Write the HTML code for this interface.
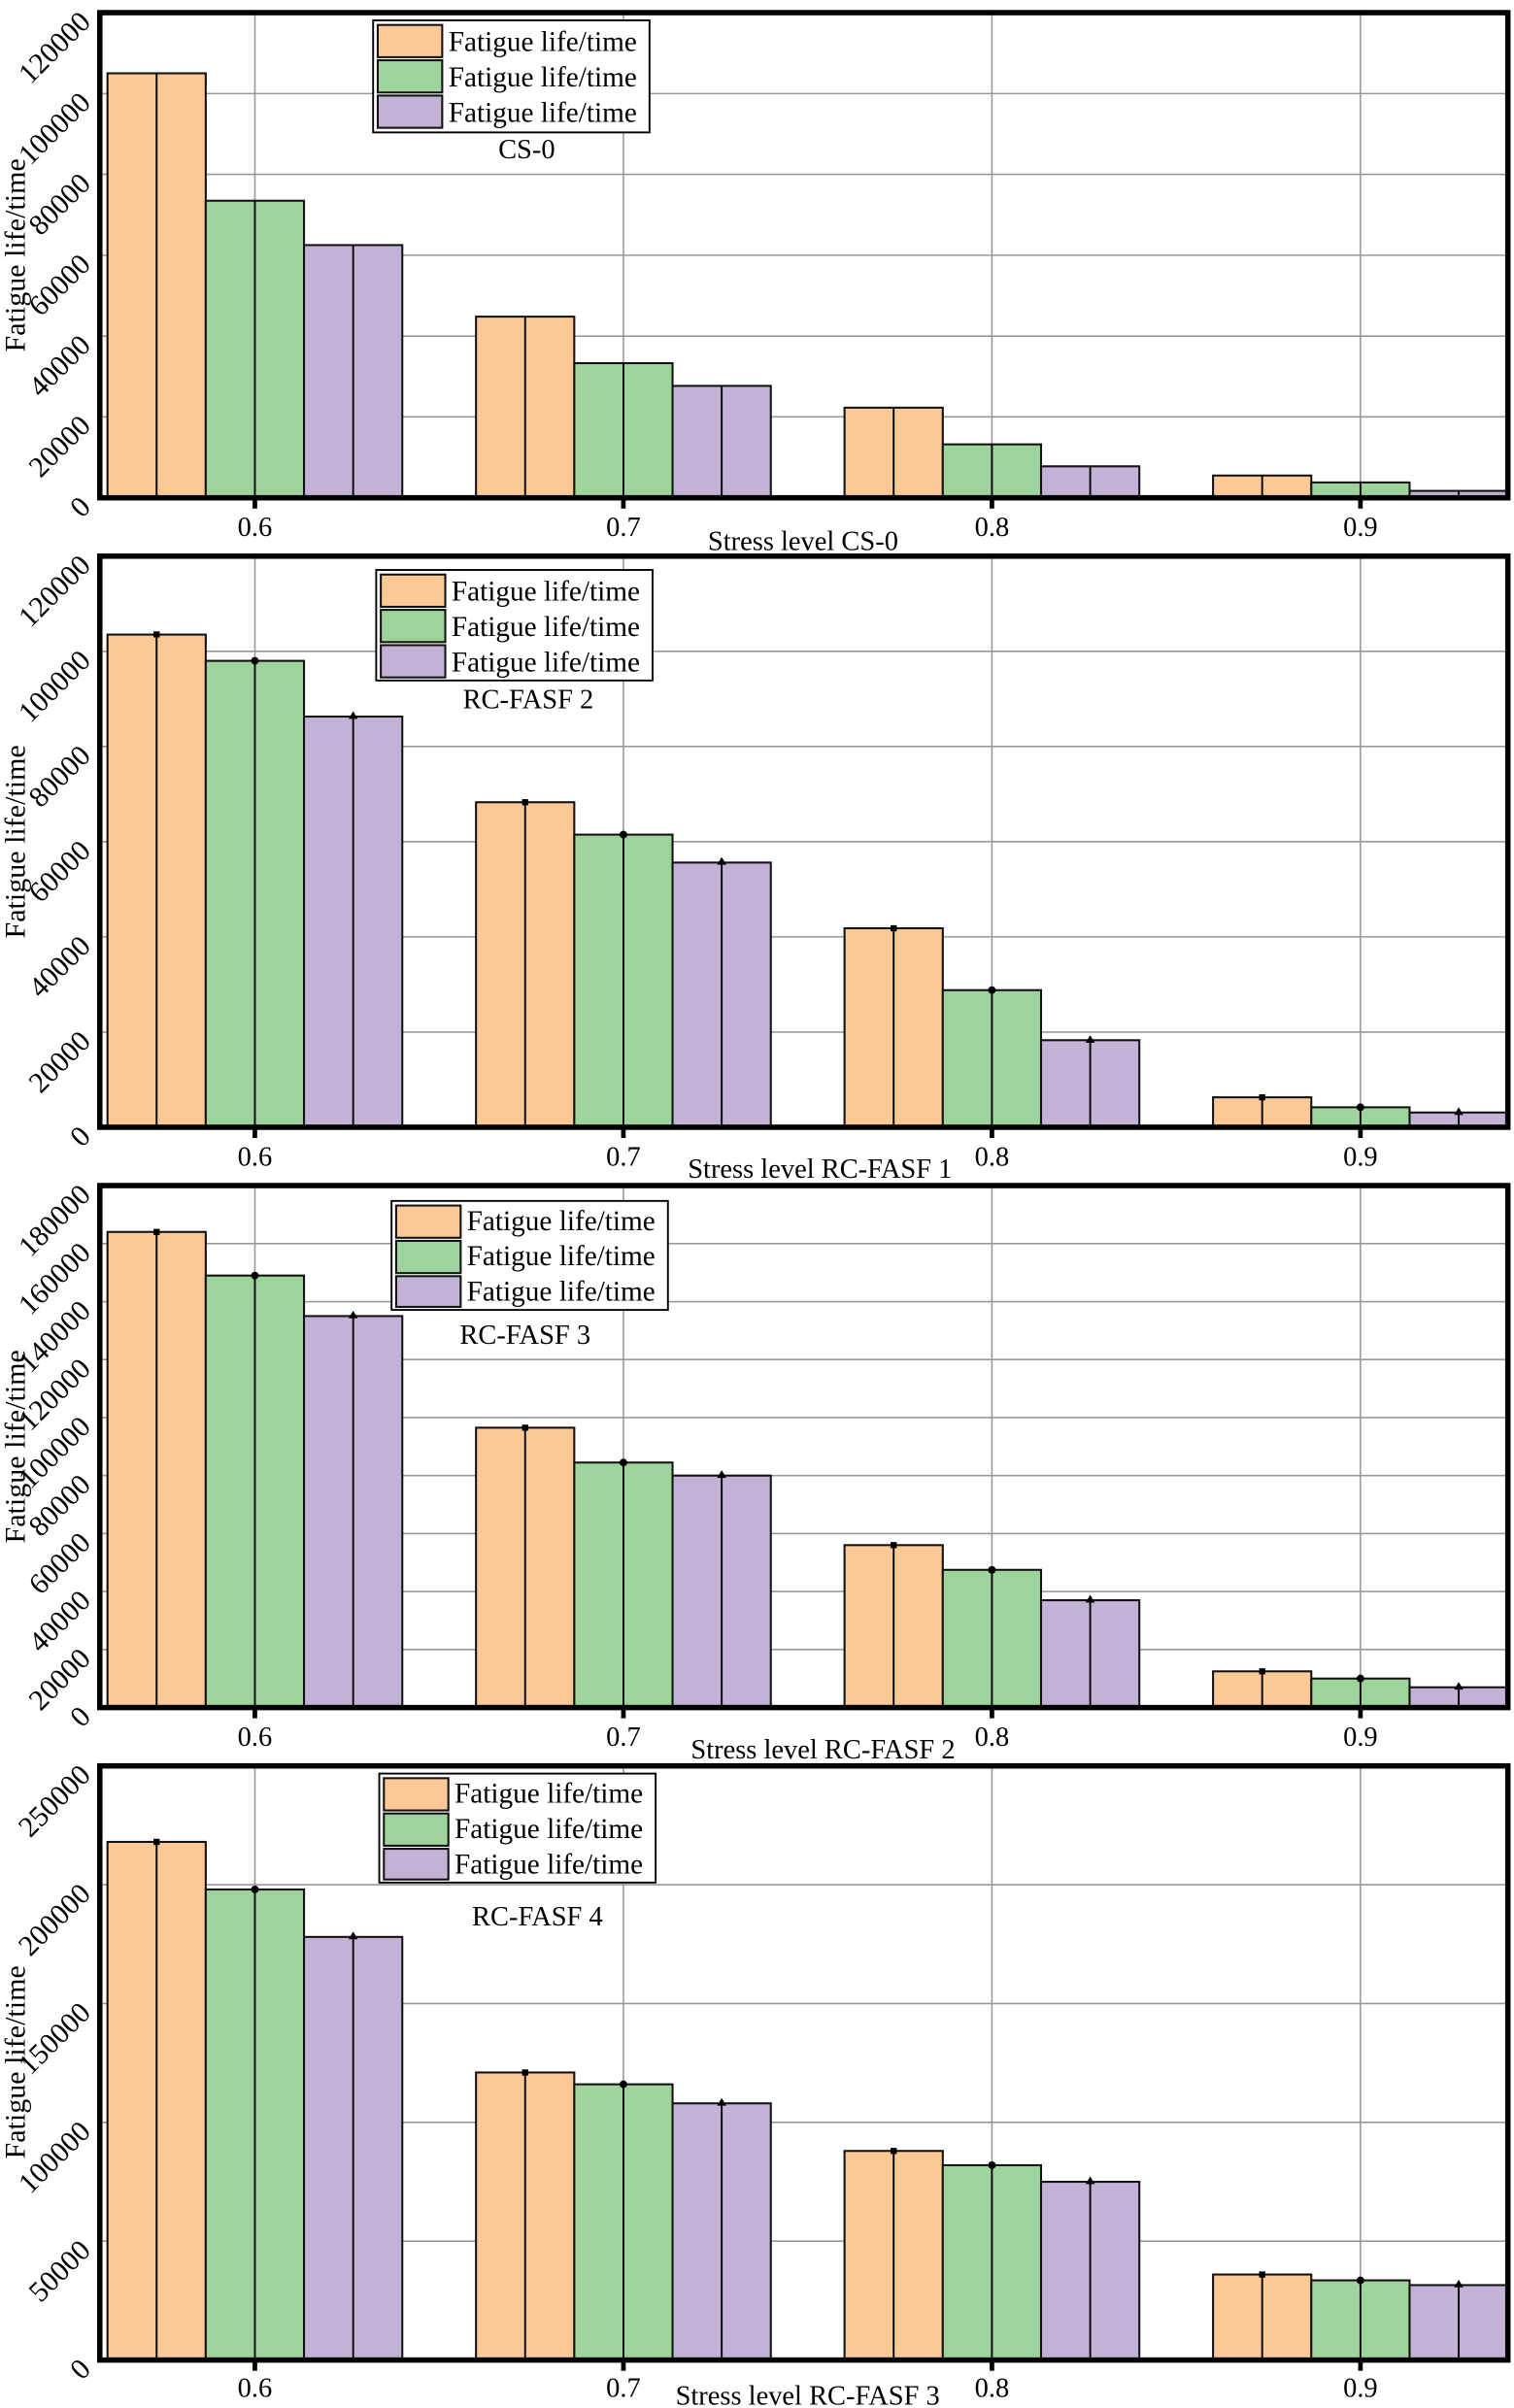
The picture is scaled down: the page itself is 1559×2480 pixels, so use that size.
<!DOCTYPE html>
<html><head><meta charset="utf-8"><style>html,body{margin:0;padding:0;background:#fff}svg{display:block}svg text{font-family:"Liberation Serif","Times New Roman",serif;fill:#000}</style></head>
<body>
<svg width="1559" height="2480" viewBox="0 0 986 1568" xmlns="http://www.w3.org/2000/svg" font-family="Liberation Serif, serif">
<defs>
<style>
.g{stroke:#999;stroke-width:1}
.o{fill:#FBC896;stroke:#111;stroke-width:1.3}
.gr{fill:#9ED39C;stroke:#111;stroke-width:1.3}
.p{fill:#C1B2D6;stroke:#111;stroke-width:1.3}
.e{stroke:#000;stroke-width:1.2}
.f{fill:none;stroke:#000;stroke-width:3.5}
.t{font-size:18px;font-family:"Liberation Serif",serif}
.yt{font-size:19px;text-anchor:end;font-family:"Liberation Serif",serif}
.yl{font-size:19px;font-family:"Liberation Serif",serif}
.lg{font-size:18.5px;font-family:"Liberation Serif",serif}
</style>
</defs>

<!-- ===== Panel 1 ===== -->
<g>
<line class="g" x1="65" x2="982" y1="271.3" y2="271.3"/><line class="g" x1="65" x2="982" y1="218.7" y2="218.7"/><line class="g" x1="65" x2="982" y1="166" y2="166"/><line class="g" x1="65" x2="982" y1="113.3" y2="113.3"/><line class="g" x1="65" x2="982" y1="60.7" y2="60.7"/>
<line class="g" x1="166" x2="166" y1="8" y2="324"/><line class="g" x1="406" x2="406" y1="8" y2="324"/><line class="g" x1="646" x2="646" y1="8" y2="324"/><line class="g" x1="886" x2="886" y1="8" y2="324"/>
<rect class="o" x="70" y="47.5" width="64" height="276.5"/><rect class="gr" x="134" y="130.5" width="64" height="193.5"/><rect class="p" x="198" y="159.4" width="64" height="164.6"/>
<rect class="o" x="310" y="206" width="64" height="118"/><rect class="gr" x="374" y="236.3" width="64" height="87.7"/><rect class="p" x="438" y="251.1" width="64" height="72.9"/>
<rect class="o" x="550" y="265.3" width="64" height="58.7"/><rect class="gr" x="614" y="289.2" width="64" height="34.8"/><rect class="p" x="678" y="303.5" width="64" height="20.5"/>
<rect class="o" x="790" y="309.5" width="64" height="14.5"/><rect class="gr" x="854" y="314" width="64" height="10"/><rect class="p" x="918" y="319.5" width="64" height="4.5"/>
<line class="e" x1="102" x2="102" y1="47.5" y2="324"/><line class="e" x1="166" x2="166" y1="130.5" y2="324"/><line class="e" x1="230" x2="230" y1="159.4" y2="324"/>
<line class="e" x1="342" x2="342" y1="206" y2="324"/><line class="e" x1="406" x2="406" y1="236.3" y2="324"/><line class="e" x1="470" x2="470" y1="251.1" y2="324"/>
<line class="e" x1="582" x2="582" y1="265.3" y2="324"/><line class="e" x1="646" x2="646" y1="289.2" y2="324"/><line class="e" x1="710" x2="710" y1="303.5" y2="324"/>
<line class="e" x1="822" x2="822" y1="309.5" y2="324"/><line class="e" x1="886" x2="886" y1="314" y2="324"/><line class="e" x1="950" x2="950" y1="319.5" y2="324"/>
<rect class="f" x="65" y="8" width="917" height="316"/>
<line stroke="#000" stroke-width="3" x1="166" x2="166" y1="324" y2="331"/><line stroke="#000" stroke-width="3" x1="406" x2="406" y1="324" y2="331"/><line stroke="#000" stroke-width="3" x1="646" x2="646" y1="324" y2="331"/><line stroke="#000" stroke-width="3" x1="886" x2="886" y1="324" y2="331"/>
<text class="t" x="166" y="349" text-anchor="middle">0.6</text><text class="t" x="406" y="349" text-anchor="middle">0.7</text><text class="t" x="646" y="349" text-anchor="middle">0.8</text><text class="t" x="886" y="349" text-anchor="middle">0.9</text>
<text class="t" x="523" y="358" text-anchor="middle">Stress level CS-0</text>
<text class="yt" transform="translate(60,331) rotate(-45)">0</text>
<text class="yt" transform="translate(60,278) rotate(-45)">20000</text>
<text class="yt" transform="translate(60,225.7) rotate(-45)">40000</text>
<text class="yt" transform="translate(60,173) rotate(-45)">60000</text>
<text class="yt" transform="translate(60,120.3) rotate(-45)">80000</text>
<text class="yt" transform="translate(60,67.7) rotate(-45)">100000</text>
<text class="yt" transform="translate(60,15) rotate(-45)">120000</text>
<text class="yl" transform="translate(16,166) rotate(-90)" text-anchor="middle">Fatigue life/time</text>
<rect x="243" y="13" width="180" height="73" fill="#fff" stroke="#000" stroke-width="1.2"/>
<rect class="o" x="246" y="16" width="42" height="21"/><rect class="gr" x="246" y="39" width="42" height="21"/><rect class="p" x="246" y="62" width="42" height="21"/>
<text class="lg" x="292" y="33">Fatigue life/time</text><text class="lg" x="292" y="56">Fatigue life/time</text><text class="lg" x="292" y="79">Fatigue life/time</text>
<text class="t" x="343" y="103" text-anchor="middle">CS-0</text>
</g>

<!-- ===== Panel 2 ===== -->
<g>
<line class="g" x1="65" x2="982" y1="672" y2="672"/><line class="g" x1="65" x2="982" y1="610" y2="610"/><line class="g" x1="65" x2="982" y1="548" y2="548"/><line class="g" x1="65" x2="982" y1="486" y2="486"/><line class="g" x1="65" x2="982" y1="424" y2="424"/>
<line class="g" x1="166" x2="166" y1="362" y2="734"/><line class="g" x1="406" x2="406" y1="362" y2="734"/><line class="g" x1="646" x2="646" y1="362" y2="734"/><line class="g" x1="886" x2="886" y1="362" y2="734"/>
<rect class="o" x="70" y="413.1" width="64" height="320.9"/><rect class="gr" x="134" y="430.2" width="64" height="303.8"/><rect class="p" x="198" y="466.5" width="64" height="267.5"/>
<rect class="o" x="310" y="522.3" width="64" height="211.7"/><rect class="gr" x="374" y="543.4" width="64" height="190.6"/><rect class="p" x="438" y="561.6" width="64" height="172.4"/>
<rect class="o" x="550" y="604.4" width="64" height="129.6"/><rect class="gr" x="614" y="644.7" width="64" height="89.3"/><rect class="p" x="678" y="677.3" width="64" height="56.7"/>
<rect class="o" x="790" y="714.5" width="64" height="19.5"/><rect class="gr" x="854" y="721" width="64" height="13"/><rect class="p" x="918" y="724.4" width="64" height="9.6"/>
<line class="e" x1="102" x2="102" y1="413.1" y2="734"/><line class="e" x1="166" x2="166" y1="430.2" y2="734"/><line class="e" x1="230" x2="230" y1="466.5" y2="734"/>
<line class="e" x1="342" x2="342" y1="522.3" y2="734"/><line class="e" x1="406" x2="406" y1="543.4" y2="734"/><line class="e" x1="470" x2="470" y1="561.6" y2="734"/>
<line class="e" x1="582" x2="582" y1="604.4" y2="734"/><line class="e" x1="646" x2="646" y1="644.7" y2="734"/><line class="e" x1="710" x2="710" y1="677.3" y2="734"/>
<line class="e" x1="822" x2="822" y1="714.5" y2="734"/><line class="e" x1="886" x2="886" y1="721" y2="734"/><line class="e" x1="950" x2="950" y1="724.4" y2="734"/>
<rect x="100" y="411" width="4" height="4"/><circle cx="166" cy="430.2" r="2.5"/><polygon points="230,463 227,468 233,468"/>
<rect x="340" y="520.3" width="4" height="4"/><circle cx="406" cy="543.4" r="2.5"/><polygon points="470,558 467,563 473,563"/>
<rect x="580" y="602.4" width="4" height="4"/><circle cx="646" cy="644.7" r="2.5"/><polygon points="710,674 707,679 713,679"/>
<rect x="820" y="712.5" width="4" height="4"/><circle cx="886" cy="721" r="2.5"/><polygon points="950,721 947,726 953,726"/>
<rect class="f" x="65" y="362" width="917" height="372"/>
<line stroke="#000" stroke-width="3" x1="166" x2="166" y1="734" y2="741"/><line stroke="#000" stroke-width="3" x1="406" x2="406" y1="734" y2="741"/><line stroke="#000" stroke-width="3" x1="646" x2="646" y1="734" y2="741"/><line stroke="#000" stroke-width="3" x1="886" x2="886" y1="734" y2="741"/>
<text class="t" x="166" y="759" text-anchor="middle">0.6</text><text class="t" x="406" y="759" text-anchor="middle">0.7</text><text class="t" x="646" y="759" text-anchor="middle">0.8</text><text class="t" x="886" y="759" text-anchor="middle">0.9</text>
<text class="t" x="534" y="767" text-anchor="middle">Stress level RC-FASF 1</text>
<text class="yt" transform="translate(60,741) rotate(-45)">0</text>
<text class="yt" transform="translate(60,679) rotate(-45)">20000</text>
<text class="yt" transform="translate(60,617) rotate(-45)">40000</text>
<text class="yt" transform="translate(60,555) rotate(-45)">60000</text>
<text class="yt" transform="translate(60,493) rotate(-45)">80000</text>
<text class="yt" transform="translate(60,431) rotate(-45)">100000</text>
<text class="yt" transform="translate(60,369) rotate(-45)">120000</text>
<text class="yl" transform="translate(16,548) rotate(-90)" text-anchor="middle">Fatigue life/time</text>
<rect x="245" y="371" width="180" height="72" fill="#fff" stroke="#000" stroke-width="1.2"/>
<rect class="o" x="248" y="374" width="42" height="21"/><rect class="gr" x="248" y="397" width="42" height="21"/><rect class="p" x="248" y="420" width="42" height="21"/>
<text class="lg" x="294" y="391">Fatigue life/time</text><text class="lg" x="294" y="414">Fatigue life/time</text><text class="lg" x="294" y="437">Fatigue life/time</text>
<text class="t" x="344" y="461" text-anchor="middle">RC-FASF 2</text>
</g>

<!-- ===== Panel 3 ===== -->
<g>
<line class="g" x1="65" x2="982" y1="1074.2" y2="1074.2"/><line class="g" x1="65" x2="982" y1="1036.4" y2="1036.4"/><line class="g" x1="65" x2="982" y1="998.7" y2="998.7"/><line class="g" x1="65" x2="982" y1="960.9" y2="960.9"/><line class="g" x1="65" x2="982" y1="923.1" y2="923.1"/><line class="g" x1="65" x2="982" y1="885.3" y2="885.3"/><line class="g" x1="65" x2="982" y1="847.6" y2="847.6"/><line class="g" x1="65" x2="982" y1="809.8" y2="809.8"/>
<line class="g" x1="166" x2="166" y1="772" y2="1112"/><line class="g" x1="406" x2="406" y1="772" y2="1112"/><line class="g" x1="646" x2="646" y1="772" y2="1112"/><line class="g" x1="886" x2="886" y1="772" y2="1112"/>
<rect class="o" x="70" y="802.2" width="64" height="309.8"/><rect class="gr" x="134" y="830.6" width="64" height="281.4"/><rect class="p" x="198" y="857" width="64" height="255"/>
<rect class="o" x="310" y="929.7" width="64" height="182.3"/><rect class="gr" x="374" y="952.4" width="64" height="159.6"/><rect class="p" x="438" y="960.9" width="64" height="151.1"/>
<rect class="o" x="550" y="1006.2" width="64" height="105.8"/><rect class="gr" x="614" y="1022.3" width="64" height="89.7"/><rect class="p" x="678" y="1042.1" width="64" height="69.9"/>
<rect class="o" x="790" y="1088.4" width="64" height="23.6"/><rect class="gr" x="854" y="1093.1" width="64" height="18.9"/><rect class="p" x="918" y="1098.8" width="64" height="13.2"/>
<line class="e" x1="102" x2="102" y1="802.2" y2="1112"/><line class="e" x1="166" x2="166" y1="830.6" y2="1112"/><line class="e" x1="230" x2="230" y1="857" y2="1112"/>
<line class="e" x1="342" x2="342" y1="929.7" y2="1112"/><line class="e" x1="406" x2="406" y1="952.4" y2="1112"/><line class="e" x1="470" x2="470" y1="960.9" y2="1112"/>
<line class="e" x1="582" x2="582" y1="1006.2" y2="1112"/><line class="e" x1="646" x2="646" y1="1022.3" y2="1112"/><line class="e" x1="710" x2="710" y1="1042.1" y2="1112"/>
<line class="e" x1="822" x2="822" y1="1088.4" y2="1112"/><line class="e" x1="886" x2="886" y1="1093.1" y2="1112"/><line class="e" x1="950" x2="950" y1="1098.8" y2="1112"/>
<rect x="100" y="800.2" width="4" height="4"/><circle cx="166" cy="830.6" r="2.5"/><polygon points="230,853.5 227,858.5 233,858.5"/>
<rect x="340" y="927.7" width="4" height="4"/><circle cx="406" cy="952.4" r="2.5"/><polygon points="470,957.4 467,962.4 473,962.4"/>
<rect x="580" y="1004.2" width="4" height="4"/><circle cx="646" cy="1022.3" r="2.5"/><polygon points="710,1038.6 707,1043.6 713,1043.6"/>
<rect x="820" y="1086.4" width="4" height="4"/><circle cx="886" cy="1093.1" r="2.5"/><polygon points="950,1095.3 947,1100.3 953,1100.3"/>
<rect class="f" x="65" y="772" width="917" height="340"/>
<line stroke="#000" stroke-width="3" x1="166" x2="166" y1="1112" y2="1119"/><line stroke="#000" stroke-width="3" x1="406" x2="406" y1="1112" y2="1119"/><line stroke="#000" stroke-width="3" x1="646" x2="646" y1="1112" y2="1119"/><line stroke="#000" stroke-width="3" x1="886" x2="886" y1="1112" y2="1119"/>
<text class="t" x="166" y="1137" text-anchor="middle">0.6</text><text class="t" x="406" y="1137" text-anchor="middle">0.7</text><text class="t" x="646" y="1137" text-anchor="middle">0.8</text><text class="t" x="886" y="1137" text-anchor="middle">0.9</text>
<text class="t" x="536" y="1145" text-anchor="middle">Stress level RC-FASF 2</text>
<text class="yt" transform="translate(60,1119) rotate(-45)">0</text>
<text class="yt" transform="translate(60,1081.2) rotate(-45)">20000</text>
<text class="yt" transform="translate(60,1043.4) rotate(-45)">40000</text>
<text class="yt" transform="translate(60,1005.7) rotate(-45)">60000</text>
<text class="yt" transform="translate(60,967.9) rotate(-45)">80000</text>
<text class="yt" transform="translate(60,930.1) rotate(-45)">100000</text>
<text class="yt" transform="translate(60,892.3) rotate(-45)">120000</text>
<text class="yt" transform="translate(60,854.6) rotate(-45)">140000</text>
<text class="yt" transform="translate(60,816.8) rotate(-45)">160000</text>
<text class="yt" transform="translate(60,779) rotate(-45)">180000</text>
<text class="yl" transform="translate(16,942) rotate(-90)" text-anchor="middle">Fatigue life/time</text>
<rect x="255" y="782" width="180" height="71" fill="#fff" stroke="#000" stroke-width="1.2"/>
<rect class="o" x="258" y="785" width="42" height="21"/><rect class="gr" x="258" y="808" width="42" height="21"/><rect class="p" x="258" y="831" width="42" height="20"/>
<text class="lg" x="304" y="801">Fatigue life/time</text><text class="lg" x="304" y="824">Fatigue life/time</text><text class="lg" x="304" y="847">Fatigue life/time</text>
<text class="t" x="342" y="875" text-anchor="middle">RC-FASF 3</text>
</g>

<!-- ===== Panel 4 ===== -->
<g>
<line class="g" x1="65" x2="982" y1="1459.6" y2="1459.6"/><line class="g" x1="65" x2="982" y1="1382.2" y2="1382.2"/><line class="g" x1="65" x2="982" y1="1304.8" y2="1304.8"/><line class="g" x1="65" x2="982" y1="1227.4" y2="1227.4"/>
<line class="g" x1="166" x2="166" y1="1150" y2="1537"/><line class="g" x1="406" x2="406" y1="1150" y2="1537"/><line class="g" x1="646" x2="646" y1="1150" y2="1537"/><line class="g" x1="886" x2="886" y1="1150" y2="1537"/>
<rect class="o" x="70" y="1199.5" width="64" height="337.5"/><rect class="gr" x="134" y="1230.5" width="64" height="306.5"/><rect class="p" x="198" y="1261.4" width="64" height="275.6"/>
<rect class="o" x="310" y="1349.7" width="64" height="187.3"/><rect class="gr" x="374" y="1357.4" width="64" height="179.6"/><rect class="p" x="438" y="1369.8" width="64" height="167.2"/>
<rect class="o" x="550" y="1400.8" width="64" height="136.2"/><rect class="gr" x="614" y="1410.1" width="64" height="126.9"/><rect class="p" x="678" y="1420.9" width="64" height="116.1"/>
<rect class="o" x="790" y="1481.3" width="64" height="55.7"/><rect class="gr" x="854" y="1485.1" width="64" height="51.9"/><rect class="p" x="918" y="1488.2" width="64" height="48.8"/>
<line class="e" x1="102" x2="102" y1="1199.5" y2="1537"/><line class="e" x1="166" x2="166" y1="1230.5" y2="1537"/><line class="e" x1="230" x2="230" y1="1261.4" y2="1537"/>
<line class="e" x1="342" x2="342" y1="1349.7" y2="1537"/><line class="e" x1="406" x2="406" y1="1357.4" y2="1537"/><line class="e" x1="470" x2="470" y1="1369.8" y2="1537"/>
<line class="e" x1="582" x2="582" y1="1400.8" y2="1537"/><line class="e" x1="646" x2="646" y1="1410.1" y2="1537"/><line class="e" x1="710" x2="710" y1="1420.9" y2="1537"/>
<line class="e" x1="822" x2="822" y1="1481.3" y2="1537"/><line class="e" x1="886" x2="886" y1="1485.1" y2="1537"/><line class="e" x1="950" x2="950" y1="1488.2" y2="1537"/>
<rect x="100" y="1197.5" width="4" height="4"/><circle cx="166" cy="1230.5" r="2.5"/><polygon points="230,1257.9 227,1262.9 233,1262.9"/>
<rect x="340" y="1347.7" width="4" height="4"/><circle cx="406" cy="1357.4" r="2.5"/><polygon points="470,1366.3 467,1371.3 473,1371.3"/>
<rect x="580" y="1398.8" width="4" height="4"/><circle cx="646" cy="1410.1" r="2.5"/><polygon points="710,1417.4 707,1422.4 713,1422.4"/>
<rect x="820" y="1479.3" width="4" height="4"/><circle cx="886" cy="1485.1" r="2.5"/><polygon points="950,1484.7 947,1489.7 953,1489.7"/>
<rect class="f" x="65" y="1150" width="917" height="387"/>
<line stroke="#000" stroke-width="3" x1="166" x2="166" y1="1537" y2="1544"/><line stroke="#000" stroke-width="3" x1="406" x2="406" y1="1537" y2="1544"/><line stroke="#000" stroke-width="3" x1="646" x2="646" y1="1537" y2="1544"/><line stroke="#000" stroke-width="3" x1="886" x2="886" y1="1537" y2="1544"/>
<text class="t" x="166" y="1561" text-anchor="middle">0.6</text><text class="t" x="406" y="1561" text-anchor="middle">0.7</text><text class="t" x="646" y="1561" text-anchor="middle">0.8</text><text class="t" x="886" y="1561" text-anchor="middle">0.9</text>
<text class="t" x="526" y="1566" text-anchor="middle">Stress level RC-FASF 3</text>
<text class="yt" transform="translate(60,1544) rotate(-45)">0</text>
<text class="yt" transform="translate(60,1466.6) rotate(-45)">50000</text>
<text class="yt" transform="translate(60,1389.2) rotate(-45)">100000</text>
<text class="yt" transform="translate(60,1311.8) rotate(-45)">150000</text>
<text class="yt" transform="translate(60,1234.4) rotate(-45)">200000</text>
<text class="yt" transform="translate(60,1157) rotate(-45)">250000</text>
<text class="yl" transform="translate(16,1343) rotate(-90)" text-anchor="middle">Fatigue life/time</text>
<rect x="247" y="1155" width="180" height="71" fill="#fff" stroke="#000" stroke-width="1.2"/>
<rect class="o" x="250" y="1158" width="42" height="21"/><rect class="gr" x="250" y="1181" width="42" height="21"/><rect class="p" x="250" y="1204" width="42" height="20"/>
<text class="lg" x="296" y="1174">Fatigue life/time</text><text class="lg" x="296" y="1197">Fatigue life/time</text><text class="lg" x="296" y="1220">Fatigue life/time</text>
<text class="t" x="350" y="1254" text-anchor="middle">RC-FASF 4</text>
</g>
</svg>
</body></html>
